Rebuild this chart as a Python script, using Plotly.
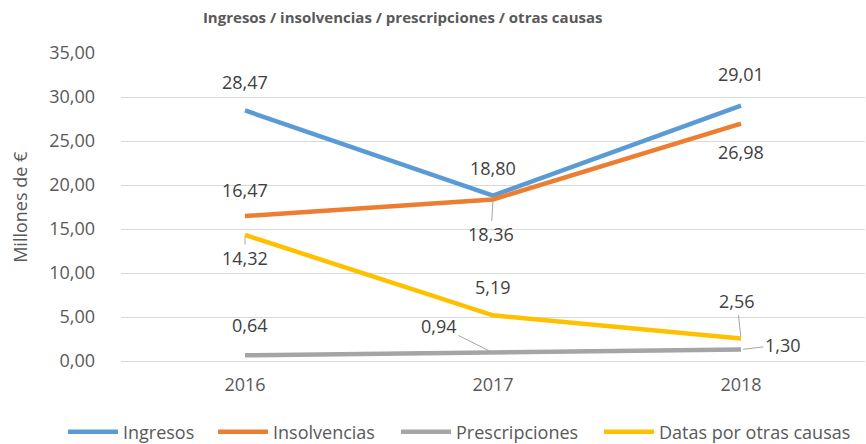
import plotly.graph_objects as go

# Annual series, in millions of euros
years = ["2016", "2017", "2018"]
ingresos = [28.47, 18.80, 29.01]
insolvencias = [16.47, 18.36, 26.98]
prescripciones = [0.64, 0.94, 1.30]
otras_causas = [14.32, 5.19, 2.56]

series_names = ["Ingresos", "Insolvencias", "Prescripciones", "Datas por otras causas"]
series_values = [ingresos, insolvencias, prescripciones, otras_causas]
series_colors = ["#5B9BD5", "#ED7D31", "#A5A5A5", "#FFC000"]

# Label offsets (px) relative to each point and whether a leader line is drawn
label_offsets = {
    "Ingresos": [(0, -28, False), (0, -28, False), (0, -32, False)],
    "Insolvencias": [(0, -26, False), (-2, 35, True), (0, 28, False)],
    "Prescripciones": [(5, -30, False), (-54, -27, True), (42, -5, True)],
    "Datas por otras causas": [(0, 23, True), (0, -28, False), (-4, -37, True)],
}

# Horizontal position (container units) of each legend entry
legend_x = [0.0727, 0.2460, 0.4573, 0.6917]

FONT = "Open Sans"
TEXT_COLOR = "#404040"
AXIS_COLOR = "#595959"


def fmt(v):
    return f"{v:.2f}".replace(".", ",")


fig = go.Figure()
for i, (name, vals, color) in enumerate(zip(series_names, series_values, series_colors)):
    fig.add_trace(go.Scatter(
        x=years, y=vals, name=name, mode="lines",
        line=dict(color=color, width=4.5),
        hoverinfo="x+y+name",
        legend="legend" if i == 0 else f"legend{i + 1}",
    ))

annotations = []
for name, vals in zip(series_names, series_values):
    for idx, (v, (ax, ay, leader)) in enumerate(zip(vals, label_offsets[name])):
        annotations.append(dict(
            x=idx, y=v, xref="x", yref="y", text=fmt(v),
            showarrow=True, ax=ax, ay=ay, arrowhead=0, arrowwidth=1,
            arrowcolor="#A6A6A6" if leader else "rgba(0,0,0,0)",
            standoff=2,
            font=dict(family=FONT, size=18, color=TEXT_COLOR),
        ))

# Rotated value-axis title
annotations.append(dict(
    text="Millones de €", xref="paper", yref="paper",
    x=-0.136, y=0.5, xanchor="center", yanchor="middle",
    textangle=-90, showarrow=False,
    font=dict(family=FONT, size=18, color=AXIS_COLOR),
))

legend_style = dict(
    orientation="h", xref="container", yref="container",
    xanchor="left", y=0.027, yanchor="middle",
    font=dict(family=FONT, size=18, color=AXIS_COLOR),
    itemwidth=50, bgcolor="rgba(0,0,0,0)",
)

fig.update_layout(
    width=866, height=444,
    margin=dict(l=121, r=1, t=53, b=83, autoexpand=False),
    paper_bgcolor="white", plot_bgcolor="white",
    separators=",.",
    title=dict(
        text="<b>Ingresos / insolvencias / prescripciones / otras causas</b>",
        x=0.465, xanchor="center", y=0.959, yanchor="middle",
        font=dict(family=FONT, size=15, color=AXIS_COLOR),
    ),
    xaxis=dict(
        type="category", range=[-0.5, 2.5], showgrid=False, showline=True,
        linecolor="#D9D9D9", linewidth=1, ticks="",
        tickfont=dict(family=FONT, size=18, color=AXIS_COLOR),
        ticklabelstandoff=7, fixedrange=True,
    ),
    yaxis=dict(
        range=[0, 35], dtick=5, tickformat=".2f",
        showgrid=True, gridcolor="#D9D9D9", gridwidth=1,
        zeroline=False, showline=False, ticks="",
        tickfont=dict(family=FONT, size=18, color=AXIS_COLOR),
        ticklabelstandoff=25, fixedrange=True,
    ),
    showlegend=True,
    legend=dict(x=legend_x[0], **legend_style),
    legend2=dict(x=legend_x[1], **legend_style),
    legend3=dict(x=legend_x[2], **legend_style),
    legend4=dict(x=legend_x[3], **legend_style),
    annotations=annotations,
)

fig.write_html("out.html")
